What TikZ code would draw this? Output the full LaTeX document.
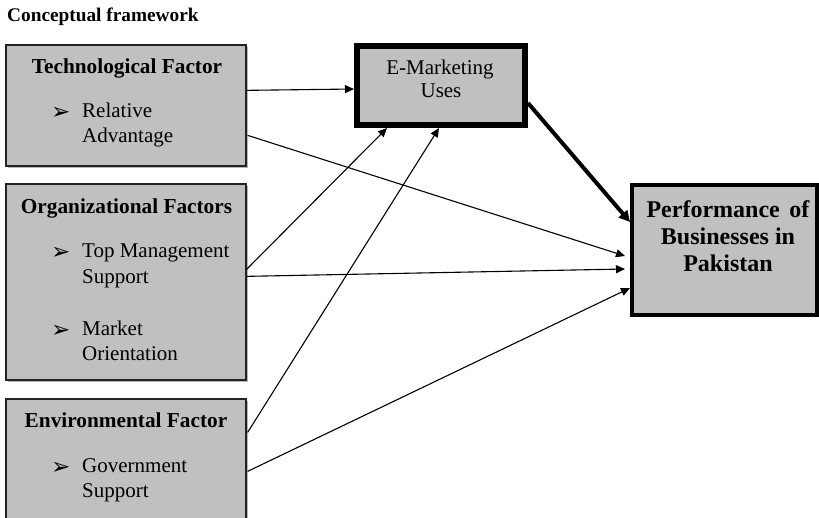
\documentclass[tikz,border=0pt]{standalone}
\usepackage{fontspec}
\setmainfont{Liberation Serif}
\newfontfamily\dejavu{DejaVu Sans}
\usetikzlibrary{arrows.meta,calc,shadows}
\definecolor{boxgray}{RGB}{192,192,192}
\definecolor{edgegray}{RGB}{35,35,35}
\definecolor{shadowgray}{RGB}{150,150,150}
\newcommand{\bul}{{\dejavu\fontsize{23}{23}\selectfont ➢}}
\tikzset{
  factorbox/.style={draw=edgegray, line width=1.3pt, fill=boxgray, minimum width=240pt, inner sep=0pt,
    drop shadow={shadow xshift=1.8pt, shadow yshift=-1.8pt, fill=shadowgray, opacity=0.7}},
  emktbox/.style={draw=black, line width=6pt, fill=boxgray, minimum width=168pt, minimum height=79pt, inner sep=0pt,
    drop shadow={shadow xshift=1.8pt, shadow yshift=-1.8pt, fill=shadowgray, opacity=0.7}},
  perfbox/.style={draw=black, line width=4pt, fill=boxgray, minimum width=185pt, minimum height=130pt, inner sep=0pt},
  heading/.style={anchor=base, inner sep=0pt, font=\fontsize{21.3}{25}\selectfont\bfseries},
  itemtext/.style={anchor=base west, inner sep=0pt, font=\fontsize{21}{25}\selectfont},
  bullet/.style={anchor=base west, inner sep=0pt},
  plaintext/.style={anchor=base, inner sep=0pt, font=\fontsize{21}{25}\selectfont},
  perftext/.style={anchor=base, inner sep=0pt, font=\fontsize{24}{27}\selectfont\bfseries},
  thinarrow/.style={draw=black, line width=1.1pt, -{Triangle[length=9pt,width=8pt]}},
  thickarrow/.style={draw=black, line width=4pt, -{Triangle[length=11pt,width=11pt]}}
}
\begin{document}
\begin{tikzpicture}[x=1pt,y=-1pt]
\useasboundingbox (0,0) rectangle (819,517);
\clip (0,0) rectangle (819,517);
\fill[white] (0,0) rectangle (819,517);

\node[anchor=base west, inner sep=0pt, font=\fontsize{19.3}{22}\selectfont\bfseries] (title) at (7,21) {Conceptual framework};

% boxes
\node[factorbox, minimum height=121pt] (tech) at (126,105.5) {};
\node[factorbox, minimum height=196pt] (org) at (126,282) {};
\node[factorbox, minimum height=132pt] (env) at (126,465) {};
\node[emktbox] (emkt) at (441,85.5) {};
\node[perfbox] (perf) at (724.5,250) {};

% technological
\node[heading] (techh) at (127,73) {Technological Factor};
\node[bullet] (b1) at (51,119) {\bul};
\node[itemtext] (t1a) at (82,117) {Relative};
\node[itemtext] (t1b) at (82,142) {Advantage};

% organizational
\node[heading] (orgh) at (126.5,213) {Organizational Factors};
\node[bullet] (b2) at (51,259) {\bul};
\node[itemtext] (t2a) at (82,257) {Top Management};
\node[itemtext] (t2b) at (82,283) {Support};
\node[bullet] (b3) at (51,337) {\bul};
\node[itemtext] (t3a) at (82,335) {Market};
\node[itemtext] (t3b) at (82,360) {Orientation};

% environmental
\node[heading] (envh) at (126,427) {Environmental Factor};
\node[bullet] (b4) at (51,474) {\bul};
\node[itemtext] (t4a) at (82,472) {Government};
\node[itemtext] (t4b) at (82,497) {Support};

% e-marketing
\node[plaintext] (em1) at (440,74) {E-Marketing};
\node[plaintext] (em2) at (441,97) {Uses};

% performance
\node[perftext] (p1) at (728,217) {Performance\hspace{0.4em}of};
\node[perftext] (p2) at (728,244) {Businesses in};
\node[perftext] (p3) at (728,271) {Pakistan};

% connectors
\draw[thinarrow] ($(tech.north east)+(0,46)$) -- ($(emkt.north west)+(0,46)$);
\draw[thinarrow] ($(tech.north east)+(1,91)$) -- ($(perf.north west)+(-5,73)$);
\draw[thinarrow] ($(org.north east)+(0,86)$) -- ($(emkt.south west)+(33,0)$);
\draw[thinarrow] ($(org.north east)+(0,93)$) -- ($(perf.north west)+(-5,86)$);
\draw[thinarrow] ($(env.north east)+(1,34)$) -- ($(emkt.south west)+(85,0)$);
\draw[thinarrow] ($(env.north east)+(1,73)$) -- ($(perf.north west)+(0,105)$);
\draw[thickarrow] ($(emkt.north east)+(0,60)$) -- ($(perf.north west)+(0,39)$);
\end{tikzpicture}
\end{document}
